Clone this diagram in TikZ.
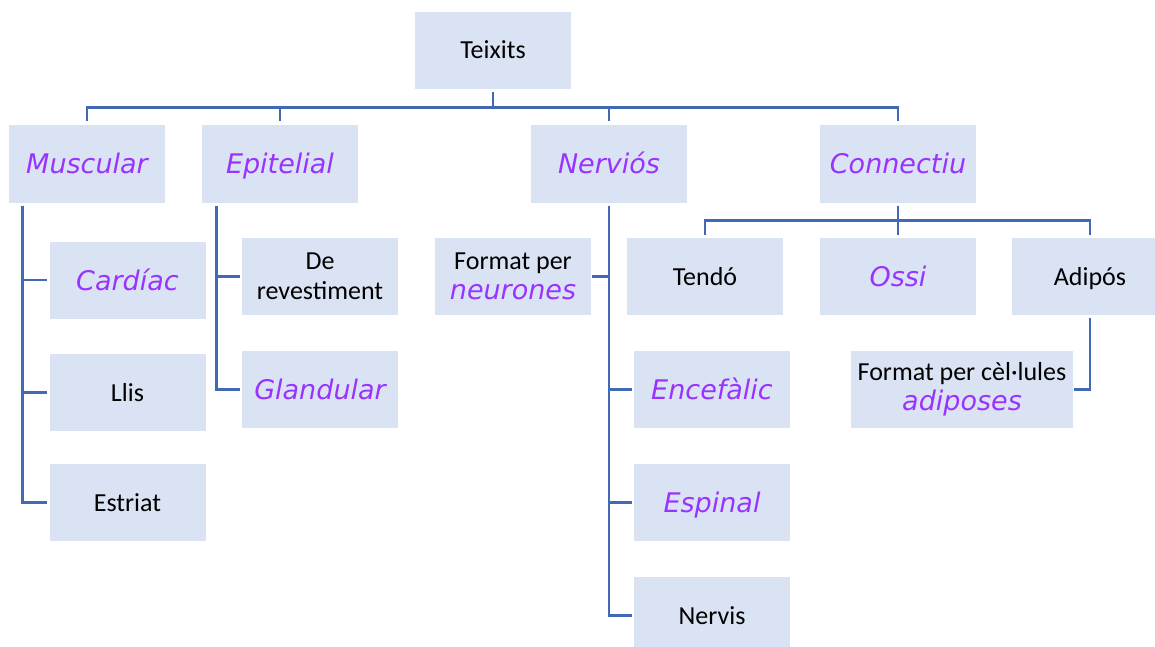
\documentclass[tikz,border=0pt]{standalone}
\usepackage{fontspec}
\setmainfont{Carlito}
\newfontfamily\obliq{DejaVu Sans Oblique}
\usetikzlibrary{positioning}

\definecolor{boxfill}{HTML}{DAE3F3}
\definecolor{linkblue}{HTML}{4169B4}
\definecolor{lila}{HTML}{9933FF}
\newcommand{\kind}[1]{{\obliq\fontsize{27}{30}\selectfont\color{lila}#1}}

\tikzset{
  tbox/.style={fill=boxfill, minimum width=156pt, minimum height=77pt,
    inner sep=0pt, align=center, font=\fontsize{26}{30}\selectfont},
  plain/.style={tbox, text height=17pt, text depth=0pt},
  kindbox/.style={tbox, text height=20pt, text depth=0pt},
  link/.style={draw=linkblue, line width=2.8pt},
}

\begin{document}
\begin{tikzpicture}[x=1pt,y=-1pt,node distance=113pt,on grid]
\useasboundingbox (0,0) rectangle (1155,647);
\clip (0,0) rectangle (1155,647);

% top levels
\node[plain] (teixits) at (493,50.5) {Teixits};
\node[kindbox] (muscular) at (87,164) {\kind{Muscular}};
\node[kindbox] (epitelial) [right=193pt of muscular] {\kind{Epitelial}};
\node[kindbox] (nervios) at (609,164) {\kind{Nerviós}};
\node[kindbox] (connectiu) [right=289pt of nervios] {\kind{Connectiu}};

% muscular
\node[kindbox] (cardiac) at (127.5,280) {\kind{Cardíac}};
\node[plain] (llis) [below=112.5pt of cardiac] {Llis};
\node[plain] (estriat) [below=110pt of llis] {Estriat};

% epitelial
\node[tbox] (derev) at (320,276.5) {De\\revestiment};
\node[kindbox] (glandular) [below=of derev] {\kind{Glandular}};

% nervios
\node[tbox] (fneur) at (513,276.5) {Format per\\\kind{neurones}};
\node[kindbox] (encefalic) at (712,389.5) {\kind{Encefàlic}};
\node[kindbox] (espinal) [below=of encefalic] {\kind{Espinal}};
\node[plain] (nervis) [below=of espinal] {Nervis};

% connectiu
\node[plain] (tendo) at (705,276.5) {Tendó};
\node[kindbox] (ossi) [right=193pt of tendo] {\kind{Ossi}};
\node[plain] (adipos) [right=192pt of ossi] {Adipós};
\node[tbox, minimum width=222pt] (fcel) at (962,389.5) {Format per cèl·lules\\\kind{adiposes}};

% links
\foreach \k in {muscular,epitelial,nervios,connectiu}
  \draw[link] ([yshift=-3pt]teixits.south) -- ++(0,15) -| ([yshift=4pt]\k.north);
\foreach \k in {cardiac,llis,estriat}
  \draw[link] ([xshift=14pt,yshift=-3pt]muscular.south west) |- ([xshift=-2pt]\k.west);
\foreach \k in {derev,glandular}
  \draw[link] ([xshift=15pt,yshift=-3pt]epitelial.south west) |- ([xshift=-2pt]\k.west);
\foreach \k in {encefalic,espinal,nervis}
  \draw[link] ([yshift=-3pt]nervios.south) |- ([xshift=-2pt]\k.west);
\draw[link] ([yshift=-3pt]nervios.south) |- ([xshift=1pt]fneur.east);
\foreach \k in {tendo,ossi,adipos}
  \draw[link] ([yshift=-3pt]connectiu.south) -- ++(0,15) -| ([yshift=3pt]\k.north);
\draw[link] ([yshift=-3pt]adipos.south) |- ([xshift=1pt]fcel.east);
\end{tikzpicture}
\end{document}
